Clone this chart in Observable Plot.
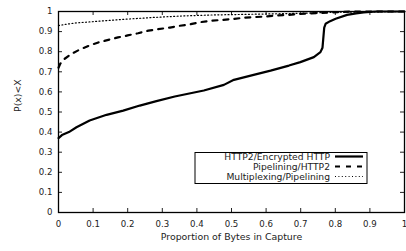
<!DOCTYPE html>
<html><head><meta charset="utf-8">
<script src="https://cdn.jsdelivr.net/npm/d3@7"></script>
<script src="https://cdn.jsdelivr.net/npm/@observablehq/plot@0.6"></script>
<style>html,body{margin:0;padding:0;background:#fff}svg{display:block}</style>
</head><body><div id="chart"></div>
<script>
const seriesNames = ["HTTP2/Encrypted HTTP", "Pipelining/HTTP2", "Multiplexing/Pipelining"];

const httpX = [0, 0.01, 0.03, 0.052, 0.09, 0.139, 0.187, 0.235, 0.283, 0.336, 0.42, 0.478, 0.507, 0.564, 0.613, 0.666, 0.699, 0.738, 0.757, 0.763, 0.765, 0.768, 0.772, 0.785, 0.801, 0.834, 0.86, 0.882, 0.92, 1.0];
const httpY = [0.37, 0.385, 0.40, 0.424, 0.458, 0.486, 0.507, 0.532, 0.554, 0.577, 0.607, 0.635, 0.66, 0.685, 0.706, 0.731, 0.748, 0.773, 0.798, 0.82, 0.86, 0.92, 0.939, 0.952, 0.964, 0.983, 0.991, 0.996, 1.0, 1.0];

const pipeX = [0, 0.005, 0.018, 0.038, 0.062, 0.09, 0.115, 0.144, 0.172, 0.2, 0.23, 0.26, 0.288, 0.322, 0.35, 0.377, 0.41, 0.44, 0.473, 0.502, 0.536, 0.564, 0.598, 0.632, 0.661, 0.72, 0.78, 0.85, 1.0];
const pipeY = [0.72, 0.74, 0.765, 0.79, 0.811, 0.831, 0.846, 0.859, 0.871, 0.881, 0.892, 0.905, 0.912, 0.92, 0.929, 0.935, 0.947, 0.954, 0.958, 0.962, 0.969, 0.972, 0.975, 0.98, 0.983, 0.99, 0.995, 1.0, 1.0];

const muxX = [0, 0.02, 0.05, 0.09, 0.14, 0.18, 0.27, 0.36, 0.45, 0.55, 0.67, 0.8, 1.0];
const muxY = [0.93, 0.936, 0.943, 0.948, 0.955, 0.96, 0.97, 0.978, 0.983, 0.986, 0.99, 0.996, 1.0];

const tickValues = [0, 0.1, 0.2, 0.3, 0.4, 0.5, 0.6, 0.7, 0.8, 0.9, 1];
const tickLabels = ["0", "0.1", "0.2", "0.3", "0.4", "0.5", "0.6", "0.7", "0.8", "0.9", "1"];
const xTitle = "Proportion of Bytes in Capture";
const yTitle = "P(x)<X";

const toRows = (xs, ys) => xs.map((x, i) => ({x, y: ys[i]}));
const httpRows = toRows(httpX, httpY);
const pipeRows = toRows(pipeX, pipeY);
const muxRows = toRows(muxX, muxY);

const W = 406, H = 251, ML = 58, MR = 2, MT = 11, MB = 39;
const PW = W - ML - MR, PH = H - MT - MB, TL = 4;
const fmt = d => tickLabels[tickValues.indexOf(d)];
const font = "DejaVu Sans";

const chart = Plot.plot({
  width: W, height: H,
  marginLeft: ML, marginRight: MR, marginTop: MT, marginBottom: MB,
  style: {fontFamily: font, fontSize: "8.6px", background: "white", color: "#222", overflow: "visible"},
  x: {domain: [0, 1]},
  y: {domain: [0, 1]},
  marks: [
    Plot.axisX({ticks: tickValues, tickSize: 0, tickPadding: 8, tickFormat: fmt, label: null, fill: "#222"}),
    Plot.axisY({ticks: tickValues, tickSize: 0, tickPadding: 6, tickFormat: fmt, label: null, fill: "#222"}),
    Plot.ruleX(tickValues, {stroke: "#222", strokeWidth: 1, insetTop: PH - TL}),
    Plot.ruleX(tickValues, {stroke: "#222", strokeWidth: 1, insetBottom: PH - TL}),
    Plot.ruleY(tickValues, {stroke: "#222", strokeWidth: 1, insetRight: PW - TL}),
    Plot.ruleY(tickValues, {stroke: "#222", strokeWidth: 1, insetLeft: PW - TL}),
    Plot.line(muxRows, {x: "x", y: "y", stroke: "black", strokeWidth: 1.2, strokeDasharray: "1,2.4"}),
    Plot.line(pipeRows, {x: "x", y: "y", stroke: "black", strokeWidth: 2.2, strokeDasharray: "5,6"}),
    Plot.line(httpRows, {x: "x", y: "y", stroke: "black", strokeWidth: 2.2, strokeLinejoin: "round"}),
    Plot.frame({stroke: "black", strokeWidth: 1.3}),
    Plot.text([xTitle], {frameAnchor: "bottom", dy: 27, fontSize: 9.4, fill: "#222"}),
    Plot.text([yTitle], {frameAnchor: "left", dx: -41, rotate: -90, fontSize: 9.4, fill: "#222"})
  ]
});
document.getElementById("chart").appendChild(chart);

// legend box inside the plot
const svg = d3.select(chart);
const lg = svg.append("g").attr("font-family", font).attr("font-size", 9.2).attr("fill", "#222");
const boxX = 195, boxY = 152.5, boxW = 172, boxH = 31;
lg.append("rect").attr("x", boxX).attr("y", boxY).attr("width", boxW).attr("height", boxH)
  .attr("fill", "white").attr("stroke", "black").attr("stroke-width", 1);
const styles = [
  {w: 2.2, dash: null},
  {w: 2.2, dash: "5,6"},
  {w: 1.2, dash: "1,2.4"}
];
seriesNames.forEach((name, i) => {
  const cy = boxY + 4 + i * 10;
  lg.append("text").attr("x", 330).attr("y", cy).attr("text-anchor", "end")
    .attr("dominant-baseline", "central").text(name);
  const l = lg.append("line").attr("x1", 335).attr("x2", 363).attr("y1", cy).attr("y2", cy)
    .attr("stroke", "black").attr("stroke-width", styles[i].w);
  if (styles[i].dash) l.attr("stroke-dasharray", styles[i].dash);
});
</script></body></html>
